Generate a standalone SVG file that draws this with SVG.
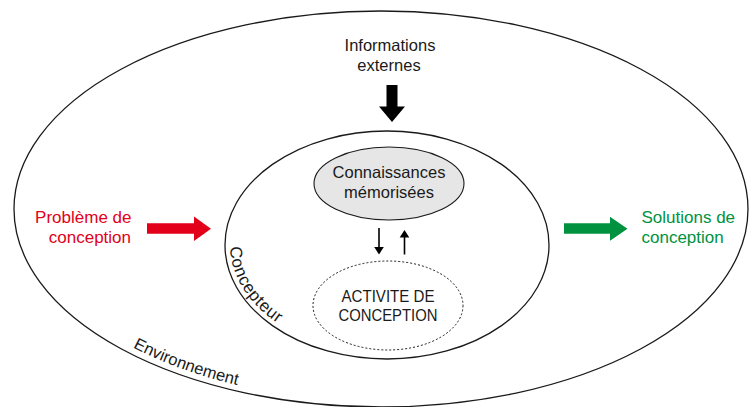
<svg xmlns="http://www.w3.org/2000/svg" xmlns:xlink="http://www.w3.org/1999/xlink" width="749" height="407" viewBox="0 0 749 407">
<style>
text{font-family:"Liberation Sans",Arial,sans-serif;font-size:16.5px;fill:#1a1a1a}
.c{text-anchor:middle}
.caps{font-size:16.5px}
.red{fill:#e2001a;font-size:17px;text-anchor:end}
.green{fill:#00923f;font-size:17px}
.ring{fill:none;stroke:#1a1a1a;stroke-width:1.3}
</style>
<defs>
<path id="envPath" d="M133,347.5 A362,193 0 0,0 381,402" fill="none"/>
<path id="conPath" d="M230,245 A157,109 0 0,0 387,354" fill="none"/>
</defs>
<rect width="749" height="407" fill="#fff"/>
<g id="environnement">
<ellipse class="ring" cx="381" cy="209" rx="367" ry="198"/>
<text font-size="17"><textPath xlink:href="#envPath" startOffset="0">Environnement</textPath></text>
</g>
<g id="concepteur">
<ellipse class="ring" cx="387" cy="245" rx="162" ry="114"/>
<text style="font-size:17px;letter-spacing:0.6px"><textPath xlink:href="#conPath" startOffset="2">Concepteur</textPath></text>
</g>
<g id="connaissances">
<ellipse cx="389" cy="183.5" rx="75" ry="36.5" fill="#e6e6e6" stroke="#1a1a1a" stroke-width="1.1"/>
<text class="c" x="389" y="178">Connaissances</text>
<text class="c" x="389" y="198">mémorisées</text>
</g>
<g id="activite">
<ellipse cx="388" cy="305.5" rx="75" ry="44.5" fill="none" stroke="#1a1a1a" stroke-width="1" stroke-dasharray="2 2"/>
<text class="c caps" x="388" y="301.5" textLength="93" lengthAdjust="spacingAndGlyphs">ACTIVITE DE</text>
<text class="c caps" x="388" y="320.5" textLength="99" lengthAdjust="spacingAndGlyphs">CONCEPTION</text>
</g>
<g id="informations">
<text class="c" x="390" y="51">Informations</text>
<text class="c" x="389" y="71">externes</text>
</g>
<g id="probleme">
<text class="red" x="131.5" y="223">Problème de</text>
<text class="red" x="131" y="243">conception</text>
</g>
<g id="solutions">
<text class="green" x="641.5" y="223">Solutions de</text>
<text class="green" x="641.5" y="243">conception</text>
</g>
<g id="connectors">
<polygon points="386.5,85 397.5,85 397.5,106.5 405,106.5 392,122 379,106.5 386.5,106.5" fill="#000"/>
<polygon points="147,223.3 194,223.3 194,216.5 211,228.7 194,241 194,233.8 147,233.8" fill="#e2001a"/>
<polygon points="564,223.3 610,223.3 610,216.7 627.5,228.7 610,240.7 610,233.8 564,233.8" fill="#00923f"/>
<line x1="379" y1="228" x2="379" y2="248" stroke="#000" stroke-width="1.6"/>
<polygon points="374.2,247 383.8,247 379,254.5" fill="#000"/>
<line x1="404.5" y1="254.5" x2="404.5" y2="236" stroke="#000" stroke-width="1.6"/>
<polygon points="399.7,237.5 409.3,237.5 404.5,230" fill="#000"/>
</g>
</svg>
